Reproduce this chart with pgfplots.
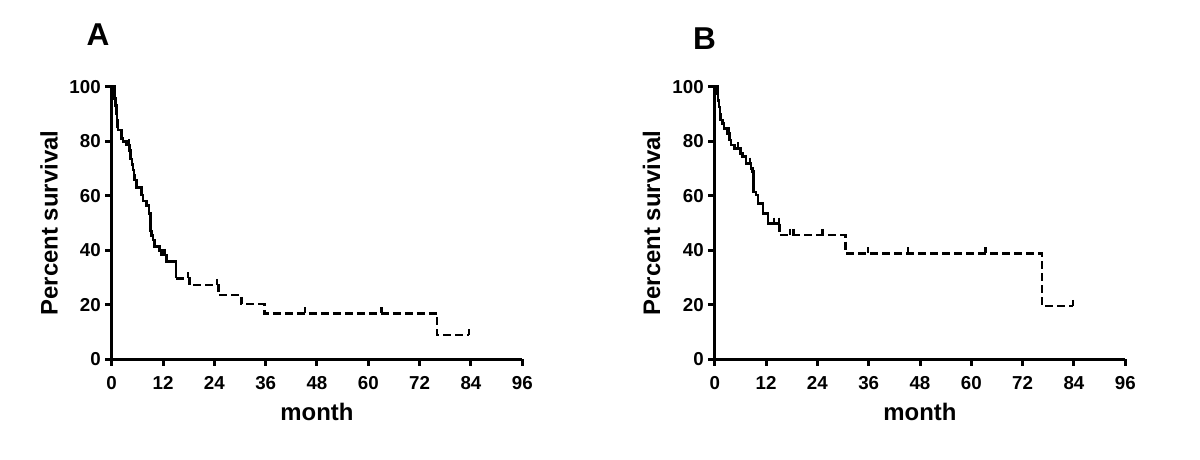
\documentclass[border=0pt]{standalone}
\usepackage{fontspec}
\setmainfont{Liberation Sans}
\usepackage{pgfplots}
\pgfplotsset{compat=1.18}

% common look of both Kaplan-Meier panels
\pgfplotsset{km/.style={
  scale only axis, width=205.3bp, height=136.3bp,
  xmin=0, xmax=96, ymin=0, ymax=100,
  xtick={0,12,...,96}, ytick={0,20,...,100},
  axis x line=bottom, axis y line=left,
  axis line style={line width=1.5bp,-},
  tick align=outside, major tick length=3.3bp,
  every tick/.style={black,line width=1.5bp},
  tick label style={font=\bfseries\fontsize{9.4}{10}\selectfont, inner sep=0pt},
  /pgf/number format/assume math mode=true,
  xticklabel style={anchor=north, yshift=-5bp},
  yticklabel style={anchor=east, xshift=-2bp},
  clip=false,
},
solid km/.style={const plot, line width=1.3bp, black},
dashed km/.style={const plot, line width=1.3bp, black, dash pattern=on 4bp off 2bp},
censor/.style={only marks, mark=|, mark size=1.5bp, black,
  mark options={line width=1.2bp, solid, yshift=1.5bp}},
}

\begin{document}
\begin{tikzpicture}
\path[use as bounding box] (0,0) rectangle (600bp,230bp);

% ---- panel A ----
\begin{axis}[km, at={(55.85bp,50.35bp)}, anchor=south west]
\addplot[solid km] coordinates {
 (0,100) (0.7,95.7) (0.95,93) (1.1,90) (1.25,87.5) (1.4,85.5) (1.5,84.1)
 (2.26,81.0) (2.65,79.8) (3.4,78.6) (4.1,76.5) (4.4,73.5) (4.7,71.5)
 (5.0,69.4) (5.2,67.5) (5.4,65.8) (5.8,63.0) (6.9,60.3) (7.3,58.0)
 (8.1,56.5) (8.7,53.5) (9.1,47.0) (9.3,45.5) (9.7,43.8) (10.0,41.3)
 (11.2,40.0) (11.6,38.3) (12.8,35.8) (15.0,29.7)};
\addplot[dashed km] coordinates {
 (15.0,29.7) (18.2,27.3) (25.0,23.6) (30.3,20.3) (35.7,16.9) (76.1,8.9) (83.6,8.9)};
\addplot[censor] coordinates {
 (4.0,78.6) (12.3,38.3) (17.8,29.7) (24.6,27.3) (45.2,16.9) (63.1,16.9) (83.6,8.9)};
\end{axis}

% ---- panel B ----
\begin{axis}[km, at={(357.35bp,50.35bp)}, anchor=south west]
\addplot[solid km] coordinates {
 (0,100) (0.6,97.6) (0.8,95) (1.0,92.5) (1.2,90) (1.4,87.8) (1.8,86.6)
 (2.2,84.7) (3.0,82.9) (3.5,80.5) (3.8,78.6) (4.6,77.4) (6.1,75.5)
 (6.5,74.3) (7.3,71.8) (8.5,70.0) (8.9,68.8) (9.0,64.0) (9.1,61.4)
 (9.7,60.2) (10.1,57.2) (11.3,53.5) (12.5,49.8) (15.2,49.8)};
\addplot[dashed km] coordinates {
 (15.2,49.8) (15.2,45.6) (30.6,38.9) (76.5,19.6) (83.8,19.6)};
\addplot[censor] coordinates {
 (3.4,82.9) (5.4,77.4) (8.3,71.8) (13.9,49.8) (15.0,49.8) (17.6,45.6)
 (18.4,45.6) (25.2,45.6) (35.9,38.9) (45.2,38.9) (63.3,38.9) (83.8,19.6)};
\end{axis}

% panel letters and axis titles
\node[font=\bfseries\fontsize{15.85}{18}\selectfont, anchor=base] at (49bp,207bp) {A};
\node[font=\bfseries\fontsize{15.85}{18}\selectfont, anchor=base] at (352.25bp,205bp) {B};
\node[font=\bfseries\fontsize{12}{14}\selectfont, anchor=base] at (158.5bp,19.65bp) {month};
\node[font=\bfseries\fontsize{12}{14}\selectfont, anchor=base] at (460bp,19.65bp) {month};
\node[font=\bfseries\fontsize{12}{14}\selectfont, anchor=base, rotate=90] at (28.75bp,118.5bp) {Percent survival};
\node[font=\bfseries\fontsize{12}{14}\selectfont, anchor=base, rotate=90] at (330bp,118.5bp) {Percent survival};
\end{tikzpicture}
\end{document}
